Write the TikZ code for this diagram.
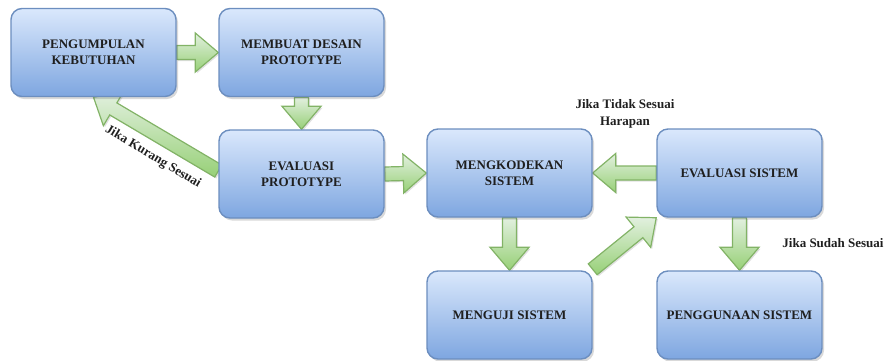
\documentclass[tikz,border=0pt]{standalone}
\usepackage{fontspec}
\setmainfont{Liberation Serif}
\usetikzlibrary{shadows,calc,backgrounds}
\definecolor{boxtop}{HTML}{DAE8FC}
\definecolor{boxbot}{HTML}{7EA6E0}
\definecolor{boxline}{HTML}{6C8EBF}
\definecolor{arrtop}{HTML}{E2F0DF}
\definecolor{arrbot}{HTML}{97D077}
\definecolor{arrline}{HTML}{82B366}
\tikzset{
  proc/.style={draw=boxline, line width=1.4pt, rounded corners=11pt,
    top color=boxtop, bottom color=boxbot,
    minimum width=165pt, minimum height=88pt, inner sep=0pt,
    align=center, text=black!88,
    font=\bfseries\fontsize{13}{16}\selectfont,
    drop shadow={shadow xshift=2pt, shadow yshift=-2.5pt, opacity=0.25, fill=black!60}},
  blk/.style={draw=arrline, line width=1.2pt, line join=miter,
    top color=arrtop, bottom color=arrbot,
    drop shadow={shadow xshift=1.5pt, shadow yshift=-1.5pt, opacity=0.2, fill=black!60}},
  lbl/.style={font=\bfseries\fontsize{13}{17}\selectfont, align=center, text=black!88, inner sep=1pt}
}
\newcommand\blkarrow[2]{%
  \path[blk] let \p1=(#1), \p2=(#2),
    \n1={atan2(\y2-\y1,\x2-\x1)}, \n2={veclen(\x2-\x1,\y2-\y1)} in
    [shift={(\p1)}, rotate=\n1]
    (0pt,-7pt) -- ({\n2-23pt},-7pt) -- ({\n2-23pt},-19.5pt) -- (\n2,0pt)
    -- ({\n2-23pt},19.5pt) -- ({\n2-23pt},7pt) -- (0pt,7pt) -- cycle;}
\begin{document}
\begin{tikzpicture}[x=1pt,y=-1pt]
\useasboundingbox (0,0) rectangle (884,360);
\node[proc] (n1) at (93.5,52.5) {PENGUMPULAN\\KEBUTUHAN};
\node[proc] (n2) at (301.5,52.5) {MEMBUAT DESAIN\\PROTOTYPE};
\node[proc] (n3) at (301.5,174) {EVALUASI\\PROTOTYPE};
\node[proc] (n4) at (509.5,173) {MENGKODEKAN\\SISTEM};
\node[proc] (n5) at (739.5,173) {EVALUASI SISTEM};
\node[proc] (n6) at (509.5,315) {MENGUJI SISTEM};
\node[proc] (n7) at (739.5,315) {PENGGUNAAN SISTEM};
\coordinate (t31) at ($(n3.west)+(0,-3)$);
\coordinate (t64) at ($(n6.north east)+(0,-1)$);
\begin{scope}[on background layer]
\blkarrow{n1.east}{n2.west}
\blkarrow{n2.south}{n3.north}
\blkarrow{t31}{n1.south}
\blkarrow{n3.east}{n4.west}
\blkarrow{n5.west}{n4.east}
\blkarrow{n4.south}{n6.north}
\blkarrow{t64}{n5.south west}
\blkarrow{n5.south}{n7.north}
\end{scope}
\node[lbl, rotate=-31] (l1) at (153,157) {Jika Kurang Sesuai};
\node[lbl] (l2) at (625,114) {Jika Tidak Sesuai\\Harapan};
\node[lbl] (l3) at (833,243) {Jika Sudah Sesuai};
\end{tikzpicture}
\end{document}
